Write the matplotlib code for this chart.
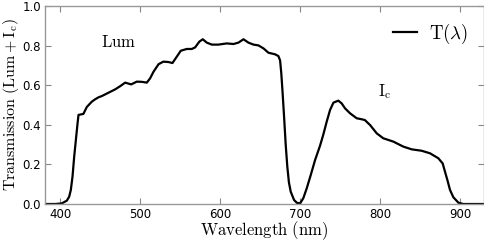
import matplotlib
matplotlib.use("Agg")
import matplotlib.pyplot as plt

plt.rcParams['mathtext.fontset'] = 'cm'
plt.rcParams['font.family'] = ['DejaVu Sans']

wavelength = [380, 394, 402, 408.3, 411.25, 413.3, 415.4, 417.5, 419.6, 421.7, 422.9,
              429, 433.3, 439.6, 443.75, 448, 452, 460.4, 468.75, 475, 481.25, 488.75,
              495.8, 502, 508.3, 512.5, 516.7, 523, 529, 535.4, 540.4, 545.8, 550.8,
              558.3, 564.6, 568.75, 574, 578.3, 583.3, 589.6, 597.9, 608.3, 616.7,
              622.9, 629.2, 635.4, 641.7, 647.9, 654.2, 660.4, 668.75, 672.9, 675,
              676.5, 678, 680, 682, 684, 686, 688.3, 692.5, 696, 700, 704, 708.3,
              713.3, 718.75, 725, 729, 733.3, 737.5, 741.7, 747.9, 752, 756.25, 762.5,
              770.8, 777, 781, 787.5, 795.8, 804, 816.7, 829, 839.6, 852, 862.5,
              872.9, 878.3, 881.25, 884.2, 887.5, 891.7, 897.9, 904, 930]
transmission = [0.0, 0.0, 0.003, 0.017, 0.037, 0.071, 0.138, 0.239, 0.323, 0.407, 0.45,
                0.455, 0.49, 0.517, 0.529, 0.539, 0.545, 0.562, 0.579, 0.595, 0.613, 0.604,
                0.618, 0.617, 0.613, 0.635, 0.668, 0.706, 0.719, 0.717, 0.712, 0.744, 0.774,
                0.783, 0.783, 0.791, 0.82, 0.832, 0.815, 0.805, 0.805, 0.811, 0.808,
                0.815, 0.832, 0.815, 0.805, 0.801, 0.786, 0.764, 0.756, 0.747, 0.725,
                0.66, 0.57, 0.44, 0.30, 0.19, 0.11, 0.062, 0.02, 0.006, 0.003, 0.029, 0.079,
                0.146, 0.222, 0.295, 0.35, 0.416, 0.475, 0.512, 0.522, 0.508, 0.483, 0.458,
                0.433, 0.428, 0.424, 0.399, 0.357, 0.332, 0.315, 0.29, 0.276, 0.269, 0.256,
                0.231, 0.205, 0.163, 0.121, 0.071, 0.034, 0.007, 0.0, 0.0]

xticks = [400, 500, 600, 700, 800, 900]
yticks = [0.0, 0.2, 0.4, 0.6, 0.8, 1.0]

fig = plt.figure(figsize=(4.85, 2.42), dpi=100)
ax = fig.add_axes([45/485, 1 - 204/242, 439/485, 198/242])
ax.plot(wavelength, transmission, color='black', lw=1.6, solid_joinstyle='round',
        label=r'$\mathrm{T}(\lambda)$')
ax.set_xlim(381, 930)
ax.set_ylim(0, 1.0)
ax.set_xticks(xticks)
ax.set_yticks(yticks)
ax.set_yticklabels([f"{v:.1f}" for v in yticks])
ax.tick_params(direction='in', length=4, width=0.8, color='#888888', labelsize=8.5,
               top=True, right=True, pad=3)
for s in ax.spines.values():
    s.set_color('#999999')
    s.set_linewidth(1.0)

ax.set_xlabel(r'$\mathrm{Wavelength\ (nm)}$', fontsize=12, labelpad=-1)
ax.set_ylabel(r'$\mathrm{Transmission\ (Lum+I_c)}$', fontsize=11.5, labelpad=1)
ax.text(473, 0.82, r'$\mathrm{Lum}$', fontsize=12, ha='center', va='center')
ax.text(806, 0.566, r'$\mathrm{I_c}$', fontsize=12, ha='center', va='center')
leg = ax.legend(loc='upper right', frameon=False, fontsize=13.5, handlelength=1.25,
                handletextpad=0.65, borderaxespad=0.45)

fig.savefig('out.png', dpi=100)
